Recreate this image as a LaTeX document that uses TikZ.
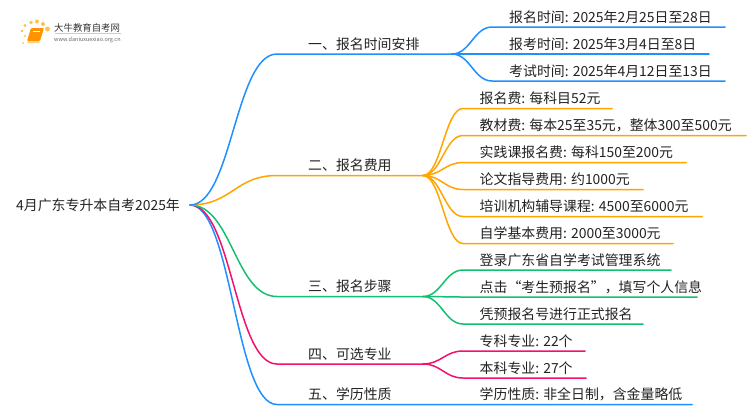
\documentclass[tikz,border=0pt]{standalone}
\usepackage{fontspec}
\setmainfont{Noto Sans CJK SC}
\definecolor{cblue}{HTML}{1E90FF}
\definecolor{corange}{HTML}{FFA500}
\definecolor{cgreen}{HTML}{13BF70}
\definecolor{cpink}{HTML}{F50F6E}
\definecolor{ctext}{HTML}{222222}
\tikzset{
  lbl/.style={inner sep=0pt,anchor=base west,text=ctext,font=\fontsize{13.9}{16}\selectfont},
  wire/.style={line width=1.5pt,line cap=round},
  spine/.style={wire,to path={.. controls ($(\tikztostart)+(#1,0)$) and ($(\tikztotarget)+(-#1,0)$) .. (\tikztotarget)}},
}
\usetikzlibrary{calc}
\begin{document}
\begin{tikzpicture}[x=1pt,y=-1pt]
\useasboundingbox (0,0) rectangle (750,410);
% logo
\foreach \x/\y/\r in {25/25.5/1.6,31/22.5/1.8,37/21.5/2,43/24/2,47.5/29/2.4,22/31/1.3,25/36/1.2,23/43/1}
  \fill[corange!70!white] (\x,\y) circle (\r);
\fill[corange!90!red,rounded corners=1pt] (31,28) -- (44,28) -- (40,41) -- (27,41) -- cycle;
\fill[corange!50!white] (28,41) -- (39.5,41) -- (39,43) -- (27,43) -- cycle;
\draw[white,line width=.5pt] (33,31) -- (40,31);
\node[inner sep=0pt,anchor=base west,text=black!80,font=\fontsize{9.4}{10}\selectfont] (logoa) at (54,31) {大牛教育自考网};
\node[inner sep=0pt,anchor=base west,text=black!60,font=\fontsize{5.5}{6}\selectfont] (logob) at (54,41) {www.daniuxuexiao.org.cn};
\draw[black!20,line width=.5pt] (55,33.5) -- (121,33.5);
% root
\node[lbl] (root) at (16,210.5) {4月广东专升本自考2025年};
\coordinate (o) at (190,205);
% main branches
\coordinate (b1s) at (277,54); \coordinate (b1e) at (452,54);
\coordinate (b2s) at (277,175.5); \coordinate (b2e) at (423,175.5);
\coordinate (b3s) at (277,296.5); \coordinate (b3e) at (423,296.5);
\coordinate (b4s) at (277,364); \coordinate (b4e) at (423,364);
\coordinate (b5s) at (277,404.5); \coordinate (b5e) at (692,404.5);
\draw[wire,cblue] (o) to[spine=42] (b5s) -- (b5e);
\draw[wire,cpink] (o) to[spine=42] (b4s) -- (b4e);
\draw[wire,cgreen] (o) to[spine=42] (b3s) -- (b3e);
\draw[wire,corange] (o) to[spine=42] (b2s) -- (b2e);
\draw[wire,cblue] (o) to[spine=42] (b1s) -- (b1e);
\node[lbl] (t1) at (308,49.5) {一、报名时间安排};
\node[lbl] (t2) at (308,170.5) {二、报名费用};
\node[lbl] (t3) at (308,291.5) {三、报名步骤};
\node[lbl] (t4) at (308,359) {四、可选专业};
\node[lbl] (t5) at (308,399.5) {五、学历性质};
% children
\foreach \y/\e/\t in {27/725/报名时间: 2025年2月25日至28日,54/709/报考时间: 2025年3月4日至8日,81/725/考试时间: 2025年4月12日至13日}{
  \coordinate (c) at (492,\y); \coordinate (d) at (\e,\y);
  \draw[wire,cblue] (b1e) to[spine=18] (c) -- (d);
  \node[lbl] at (509,\y-5) {\t};
}
\foreach \y/\e/\t in {108.5/612/报名费: 每科目52元,135.5/746/教材费: 每本25至35元，整体300至500元,162.5/686/实践课报名费: 每科150至200元,189.5/643/论文指导费用: 约1000元,216.5/702/培训机构辅导课程: 4500至6000元,243.5/673/自学基本费用: 2000至3000元}{
  \coordinate (c) at (463,\y); \coordinate (d) at (\e,\y);
  \draw[wire,corange] (b2e) to[spine=18] (c) -- (d);
  \node[lbl] at (479.5,\y-5) {\t};
}
\foreach \y/\e/\t in {270/671/登录广东省自学考试管理系统,297/697/点击“考生预报名”，填写个人信息,324/643/凭预报名号进行正式报名}{
  \coordinate (c) at (463,\y); \coordinate (d) at (\e,\y);
  \draw[wire,cgreen] (b3e) to[spine=18] (c) -- (d);
  \node[lbl] at (479.5,\y-5) {\t};
}
\foreach \y/\e/\t in {351/585/专科专业: 22个,378/586/本科专业: 27个}{
  \coordinate (c) at (463,\y); \coordinate (d) at (\e,\y);
  \draw[wire,cpink] (b4e) to[spine=18] (c) -- (d);
  \node[lbl] at (479.5,\y-5) {\t};
}
\node[lbl] (t51) at (479.5,399.5) {学历性质: 非全日制，含金量略低};
\end{tikzpicture}
\end{document}
